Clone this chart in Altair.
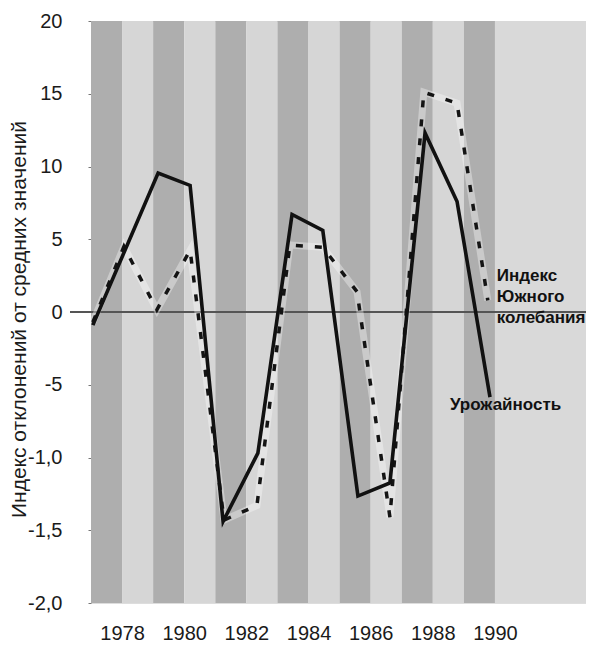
import altair as alt
import pandas as pd

# ---- data ----
# solid line: "Урожайность" (x in fractional years, y in index units)
yield_x = [1977.06, 1979.16, 1980.19, 1981.25, 1982.37, 1983.47, 1984.46,
           1985.59, 1986.62, 1987.75, 1988.78, 1989.84]
yield_y = [-0.9, 9.55, 8.7, -14.4, -9.7, 6.7, 5.6, -12.65, -11.75, 12.3, 7.6, -5.85]

# dashed line: "Индекс Южного колебания"
soi_x = [1977.06, 1978.06, 1979.12, 1980.19, 1981.28, 1982.34, 1983.40,
         1984.46, 1985.56, 1986.62, 1987.71, 1988.78, 1989.77]
soi_y = [-0.7, 4.5, 0.15, 4.25, -14.3, -13.3, 4.6, 4.45, 1.4, -14.1, 15.1, 14.35, 0.8]

# alternating background bands (one per year)
band_start = [1977, 1978, 1979, 1980, 1981, 1982, 1983, 1984, 1985, 1986, 1987, 1988, 1989]
band_end = [1978, 1979, 1980, 1981, 1982, 1983, 1984, 1985, 1986, 1987, 1988, 1989, 1990]
band_shade = ["dark", "light", "dark", "light", "dark", "light", "dark",
              "light", "dark", "light", "dark", "light", "dark"]
rest_start = [1990]
rest_end = [1992.93]

x_ticks = [1978, 1980, 1982, 1984, 1986, 1988, 1990]
y_ticks = [20, 15, 10, 5, 0, -5, -10, -15, -20]
y_tick_labels = ["20", "15", "10", "5", "0", "-5", "-1,0", "-1,5", "-2,0"]

y_title = "Индекс отклонений от средних значений"
soi_label = ["Индекс", "Южного", "колебания"]
yield_label = "Урожайность"
soi_label_pos = (1990.06, 2.47)
yield_label_pos = (1988.55, -6.4)

X_DOMAIN = [1977, 1992.93]
Y_DOMAIN = [-20, 20]
W, H = 495, 582
FONT = "Liberation Sans"

# ---- build ----
label_expr = " : ".join(
    f"datum.value == {v} ? '{t}'" for v, t in zip(y_ticks, y_tick_labels)
) + " : ''"

xs = alt.Scale(domain=X_DOMAIN, nice=False, zero=False)
ys = alt.Scale(domain=Y_DOMAIN, nice=False)

bands_df = pd.DataFrame({"x0": band_start, "x1": band_end, "shade": band_shade})
rest_df = pd.DataFrame({"x0": rest_start, "x1": rest_end})
yield_df = pd.DataFrame({"x": yield_x, "y": yield_y})
soi_df = pd.DataFrame({"x": soi_x, "y": soi_y})

x_axis = alt.Axis(values=x_ticks, format="d", title=None, grid=False, domain=False,
                  ticks=False, labelPadding=20, labelFontSize=20, labelFont=FONT,
                  labelColor="#1a1a1a")
y_axis = alt.Axis(values=y_ticks, labelExpr=label_expr, title=y_title, grid=False,
                  domain=False, tickSize=3, tickColor="#777", labelPadding=26,
                  labelFontSize=20, labelFont=FONT, labelColor="#1a1a1a",
                  titleFont=FONT, titleFontSize=21, titleFontWeight="normal",
                  titleColor="#1a1a1a", titleX=-66, titleY=298,
                  titleBaseline="alphabetic", titleAlign="center")

bands = alt.Chart(bands_df).mark_rect().encode(
    x=alt.X("x0:Q", scale=xs, axis=x_axis),
    x2="x1:Q",
    y=alt.datum(Y_DOMAIN[0], scale=ys, axis=y_axis),
    y2=alt.datum(Y_DOMAIN[1]),
    color=alt.Color("shade:N", scale=alt.Scale(domain=["dark", "light"],
                                                 range=["#aeaeae", "#d6d6d6"]),
                    legend=None),
)

rest = alt.Chart(rest_df).mark_rect(color="#d9d9d9").encode(
    x="x0:Q", x2="x1:Q",
    y=alt.datum(Y_DOMAIN[0]), y2=alt.datum(Y_DOMAIN[1]),
)

zero = alt.Chart(pd.DataFrame({"y": [0]})).mark_rule(
    color="#555555", strokeWidth=2
).encode(y="y:Q", x=alt.value(-21), x2=alt.value(W + 1))

soi_halo = alt.Chart(soi_df).mark_line(color="#ffffff", strokeWidth=7, opacity=0.35).encode(
    x="x:Q", y="y:Q"
)
soi = alt.Chart(soi_df).mark_line(color="#141414", strokeWidth=3.5,
                                  strokeDash=[7, 12]).encode(x="x:Q", y="y:Q")
yld = alt.Chart(yield_df).mark_line(color="#111111", strokeWidth=3.6,
                                    strokeJoin="miter").encode(x="x:Q", y="y:Q")

soi_txt = alt.Chart(pd.DataFrame({"x": [soi_label_pos[0]], "y": [soi_label_pos[1]]})).mark_text(
    text=soi_label, align="left", baseline="middle", font=FONT, fontSize=17,
    fontWeight="bold", lineHeight=21, color="#111111"
).encode(x="x:Q", y="y:Q")

yld_txt = alt.Chart(pd.DataFrame({"x": [yield_label_pos[0]], "y": [yield_label_pos[1]]})).mark_text(
    text=yield_label, align="left", baseline="middle", font=FONT, fontSize=17,
    fontWeight="bold", color="#111111"
).encode(x="x:Q", y="y:Q")

chart = alt.layer(bands, rest, zero, soi_halo, soi, yld, soi_txt, yld_txt).properties(
    width=W, height=H,
    autosize=alt.AutoSizeParams(type="none"),
    padding={"left": 83, "top": 13, "right": 0, "bottom": 40},
).configure_view(stroke=None).configure(background="#ffffff")

chart.save("out.html", embed_options={"renderer": "svg", "actions": False})
